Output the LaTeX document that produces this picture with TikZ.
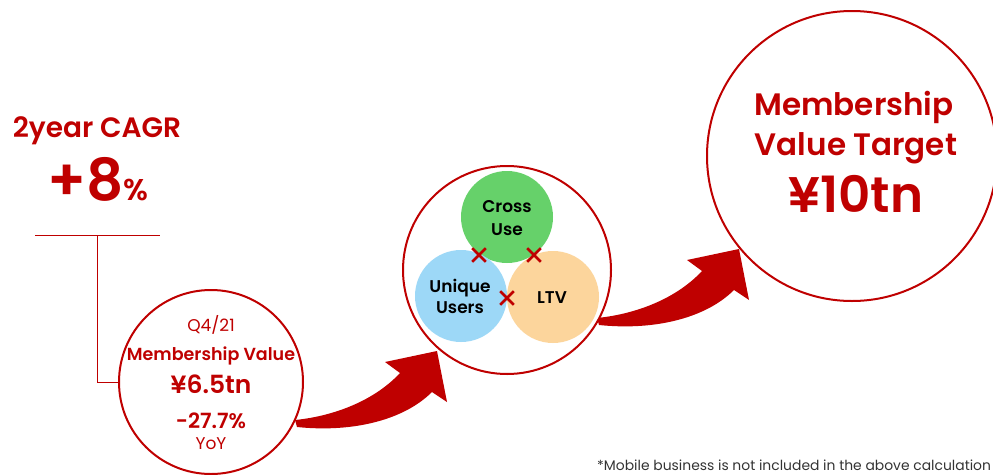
\documentclass[tikz,border=0pt]{standalone}
\usepackage{fontspec}
\setmainfont{Poppins}[BoldFont={Poppins SemiBold}]
\usetikzlibrary{shapes.misc}
\definecolor{rk}{HTML}{BF0000}
\definecolor{cgreen}{HTML}{66D16A}
\definecolor{cblue}{HTML}{9DD8F7}
\definecolor{corange}{HTML}{FCD59C}
\definecolor{fgray}{HTML}{333333}
\tikzset{
  ring/.style={circle, draw=rk, line width=2pt, inner sep=0pt, fill=white},
  bubble/.style={circle, inner sep=0pt, minimum size=92pt},
  xmark/.style={cross out, draw=rk, line width=2.6pt, minimum size=11pt, inner sep=0pt},
  lbl/.style={anchor=base, inner sep=0pt, text=rk, font=\bfseries},
  blk/.style={anchor=base, inner sep=0pt, text=black, font=\bfseries\fontsize{17}{20}\selectfont},
  bracket/.style={draw=rk, line width=0.9pt},
  curvearrow/.pic={
    \fill[rk] (0,0) .. controls (40,-4) and (80,-20) .. (105,-47)
      -- (90,-58) -- (142,-69) -- (152,-18) -- (137,-28)
      .. controls (110,-1) and (60,13) .. (2,7) -- cycle;
  }
}
\begin{document}
\begin{tikzpicture}[x=1pt,y=-1pt]
\useasboundingbox (0,0) rectangle (993,474);

% left headline
\node[lbl, font=\bfseries\fontsize{28}{32}\selectfont] (cagr) at (97,137) {2year CAGR};
\node[lbl] (pct) at (98,200) {\fontsize{58}{60}\selectfont +8\fontsize{30}{32}\selectfont\%};

% bracket
\coordinate (bl) at (35,235);
\coordinate (br) at (160,235);
\coordinate (bm) at (97,235);

% arrows (shapes)
\pic at (295,420) {curvearrow};
\pic at (597,318) {curvearrow};

% circle 1
\node[ring, minimum size=184pt] (c1) at (211,382) {};
\draw[bracket] (bl) -- (br);
\draw[bracket] (bm) |- (c1.west);
\node[lbl, font=\fontsize{17}{20}\selectfont] (q) at (211,331) {Q4/21};
\node[lbl, font=\bfseries\fontsize{17.5}{20}\selectfont] (mv) at (211,360) {Membership Value};
\node[lbl, font=\bfseries\fontsize{25}{28}\selectfont] (v1) at (211,393) {¥6.5tn};
\node[lbl, font=\bfseries\fontsize{21}{24}\selectfont] (yy) at (211,428) {-27.7\%};
\node[lbl, font=\fontsize{17}{20}\selectfont] (yoy) at (211,449) {YoY};

% circle 2 with three bubbles
\node[ring, minimum size=208pt] (c2) at (507,270) {};
\node[bubble, fill=cgreen] (cu) at (507,217) {};
\node[bubble, fill=cblue] (uu) at (461,296) {};
\node[bubble, fill=corange] (ltv) at (553,297) {};
\node[blk] (t1) at (507,212) {Cross};
\node[blk] (t2) at (507,235) {Use};
\node[blk] (t3) at (460,292) {Unique};
\node[blk] (t4) at (460,313) {Users};
\node[blk] (t5) at (552,303) {LTV};
\node[xmark] (x1) at (479,255) {};
\node[xmark] (x2) at (534,255) {};
\node[xmark] (x3) at (507,298) {};

% circle 3
\node[ring, minimum size=290pt, fill=none] (c3) at (852,156) {};
\node[lbl, font=\bfseries\fontsize{31}{34}\selectfont] (m3) at (854,115) {Membership};
\node[lbl, font=\bfseries\fontsize{31}{34}\selectfont] (m4) at (856,155) {Value Target};
\node[lbl, font=\bfseries\fontsize{50}{52}\selectfont] (m5) at (856,212) {¥10tn};

% footnote
\node[anchor=base west, inner sep=0pt, text=fgray, font=\fontsize{13.9}{16}\selectfont] (fn) at (597,470) {*Mobile business is not included in the above calculation};
\end{tikzpicture}
\end{document}
